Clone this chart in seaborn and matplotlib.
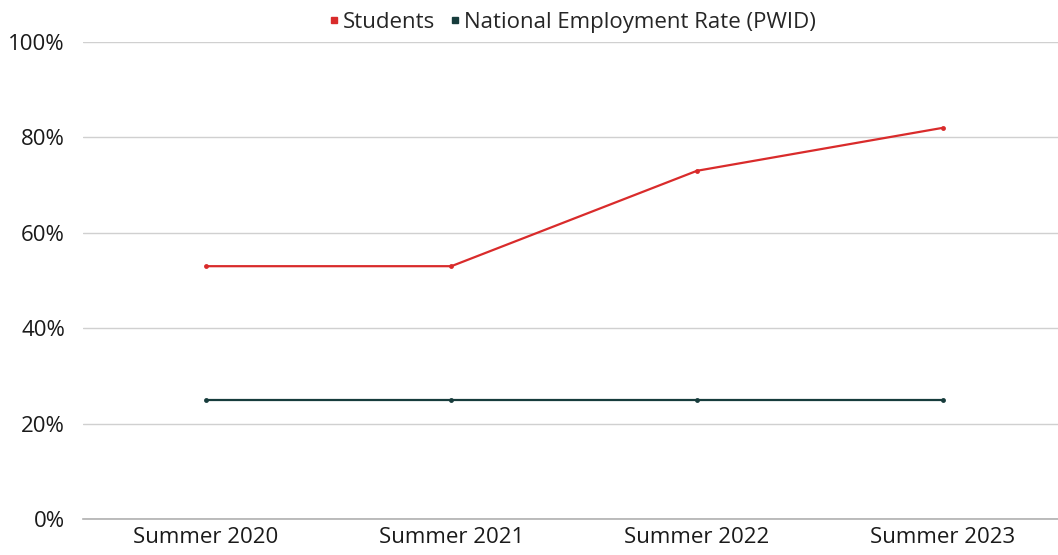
import pandas as pd
import matplotlib.pyplot as plt
import seaborn as sns
from matplotlib.lines import Line2D
from matplotlib.ticker import PercentFormatter

# data
periods = ['Summer 2020', 'Summer 2021', 'Summer 2022', 'Summer 2023']
students = [53, 53, 73, 82]
national_pwid = [25, 25, 25, 25]

df = pd.DataFrame({
    'period': periods * 2,
    'rate': students + national_pwid,
    'series': ['Students'] * 4 + ['National Employment Rate (PWID)'] * 4,
})

sns.set_theme(style='white')
plt.rcParams['font.family'] = ['Open Sans', 'DejaVu Sans']

colors = {'Students': '#d92b2b', 'National Employment Rate (PWID)': '#173c3c'}

fig = plt.figure(figsize=(10.58, 5.55), dpi=100)
ax = fig.add_axes([0.0784, 0.0649, 0.9216, 0.8594])

sns.lineplot(data=df, x='period', y='rate', hue='series', palette=colors,
             marker='o', markersize=3.5, markeredgewidth=0, linewidth=1.6,
             sort=False, legend=False, ax=ax)

ax.set_ylim(0, 100)
ax.set_xlim(-0.5, 3.47)
ax.set_yticks([0, 20, 40, 60, 80, 100])
ax.yaxis.set_major_formatter(PercentFormatter(decimals=0))
ax.grid(axis='y', color='#d0d0d0', linewidth=1)
ax.set_axisbelow(True)
for s in ['top', 'right', 'left']:
    ax.spines[s].set_visible(False)
ax.spines['bottom'].set_color('#b0b0b0')
ax.spines['bottom'].set_linewidth(1.2)
ax.tick_params(axis='both', length=0, labelsize=16, colors='#1a1a1a')
ax.tick_params(axis='y', pad=13)
ax.tick_params(axis='x', pad=6)
ax.set_xlabel('')
ax.set_ylabel('')

handles = [Line2D([], [], linestyle='none', marker='s', markersize=4,
                  color=colors[k]) for k in colors]
fig.legend(handles, list(colors.keys()), loc='upper center',
           bbox_to_anchor=(0.54, 1.015), ncol=2, frameon=False, fontsize=16,
           handletextpad=0.1, columnspacing=0.6, handlelength=0.6)

fig.savefig('out.png', dpi=100)
